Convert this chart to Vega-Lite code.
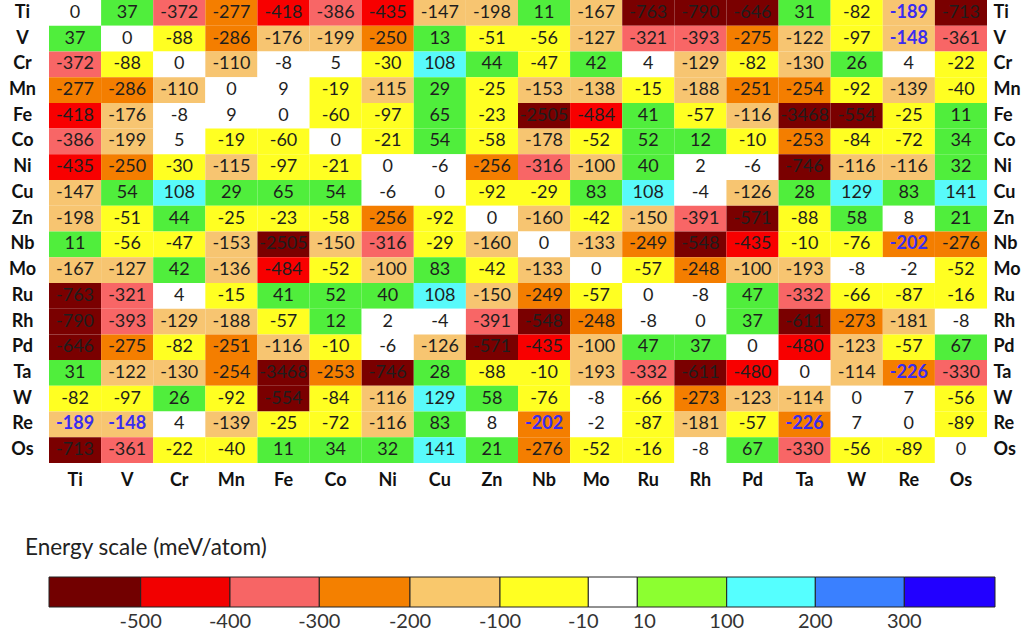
{
  "$schema": "https://vega.github.io/schema/vega-lite/v6.json",
  "width": 938,
  "height": 463,
  "autosize": {"type": "none"},
  "padding": {"left": 49, "top": 0, "right": 39, "bottom": 174},
  "background": "white",
  "config": {"view": {"stroke": null}, "font": "Lato"},
  "datasets": {
    "cells": [
      {"r":"Ti","c":"Ti","v":0},{"r":"Ti","c":"V","v":37},{"r":"Ti","c":"Cr","v":-372},{"r":"Ti","c":"Mn","v":-277},{"r":"Ti","c":"Fe","v":-418},{"r":"Ti","c":"Co","v":-386},{"r":"Ti","c":"Ni","v":-435},{"r":"Ti","c":"Cu","v":-147},{"r":"Ti","c":"Zn","v":-198},{"r":"Ti","c":"Nb","v":11},{"r":"Ti","c":"Mo","v":-167},{"r":"Ti","c":"Ru","v":-763},{"r":"Ti","c":"Rh","v":-790},{"r":"Ti","c":"Pd","v":-646},{"r":"Ti","c":"Ta","v":31},{"r":"Ti","c":"W","v":-82},{"r":"Ti","c":"Re","v":-189},{"r":"Ti","c":"Os","v":-713},
      {"r":"V","c":"Ti","v":37},{"r":"V","c":"V","v":0},{"r":"V","c":"Cr","v":-88},{"r":"V","c":"Mn","v":-286},{"r":"V","c":"Fe","v":-176},{"r":"V","c":"Co","v":-199},{"r":"V","c":"Ni","v":-250},{"r":"V","c":"Cu","v":13},{"r":"V","c":"Zn","v":-51},{"r":"V","c":"Nb","v":-56},{"r":"V","c":"Mo","v":-127},{"r":"V","c":"Ru","v":-321},{"r":"V","c":"Rh","v":-393},{"r":"V","c":"Pd","v":-275},{"r":"V","c":"Ta","v":-122},{"r":"V","c":"W","v":-97},{"r":"V","c":"Re","v":-148},{"r":"V","c":"Os","v":-361},
      {"r":"Cr","c":"Ti","v":-372},{"r":"Cr","c":"V","v":-88},{"r":"Cr","c":"Cr","v":0},{"r":"Cr","c":"Mn","v":-110},{"r":"Cr","c":"Fe","v":-8},{"r":"Cr","c":"Co","v":5},{"r":"Cr","c":"Ni","v":-30},{"r":"Cr","c":"Cu","v":108},{"r":"Cr","c":"Zn","v":44},{"r":"Cr","c":"Nb","v":-47},{"r":"Cr","c":"Mo","v":42},{"r":"Cr","c":"Ru","v":4},{"r":"Cr","c":"Rh","v":-129},{"r":"Cr","c":"Pd","v":-82},{"r":"Cr","c":"Ta","v":-130},{"r":"Cr","c":"W","v":26},{"r":"Cr","c":"Re","v":4},{"r":"Cr","c":"Os","v":-22},
      {"r":"Mn","c":"Ti","v":-277},{"r":"Mn","c":"V","v":-286},{"r":"Mn","c":"Cr","v":-110},{"r":"Mn","c":"Mn","v":0},{"r":"Mn","c":"Fe","v":9},{"r":"Mn","c":"Co","v":-19},{"r":"Mn","c":"Ni","v":-115},{"r":"Mn","c":"Cu","v":29},{"r":"Mn","c":"Zn","v":-25},{"r":"Mn","c":"Nb","v":-153},{"r":"Mn","c":"Mo","v":-138},{"r":"Mn","c":"Ru","v":-15},{"r":"Mn","c":"Rh","v":-188},{"r":"Mn","c":"Pd","v":-251},{"r":"Mn","c":"Ta","v":-254},{"r":"Mn","c":"W","v":-92},{"r":"Mn","c":"Re","v":-139},{"r":"Mn","c":"Os","v":-40},
      {"r":"Fe","c":"Ti","v":-418},{"r":"Fe","c":"V","v":-176},{"r":"Fe","c":"Cr","v":-8},{"r":"Fe","c":"Mn","v":9},{"r":"Fe","c":"Fe","v":0},{"r":"Fe","c":"Co","v":-60},{"r":"Fe","c":"Ni","v":-97},{"r":"Fe","c":"Cu","v":65},{"r":"Fe","c":"Zn","v":-23},{"r":"Fe","c":"Nb","v":-2505},{"r":"Fe","c":"Mo","v":-484},{"r":"Fe","c":"Ru","v":41},{"r":"Fe","c":"Rh","v":-57},{"r":"Fe","c":"Pd","v":-116},{"r":"Fe","c":"Ta","v":-3468},{"r":"Fe","c":"W","v":-554},{"r":"Fe","c":"Re","v":-25},{"r":"Fe","c":"Os","v":11},
      {"r":"Co","c":"Ti","v":-386},{"r":"Co","c":"V","v":-199},{"r":"Co","c":"Cr","v":5},{"r":"Co","c":"Mn","v":-19},{"r":"Co","c":"Fe","v":-60},{"r":"Co","c":"Co","v":0},{"r":"Co","c":"Ni","v":-21},{"r":"Co","c":"Cu","v":54},{"r":"Co","c":"Zn","v":-58},{"r":"Co","c":"Nb","v":-178},{"r":"Co","c":"Mo","v":-52},{"r":"Co","c":"Ru","v":52},{"r":"Co","c":"Rh","v":12},{"r":"Co","c":"Pd","v":-10},{"r":"Co","c":"Ta","v":-253},{"r":"Co","c":"W","v":-84},{"r":"Co","c":"Re","v":-72},{"r":"Co","c":"Os","v":34},
      {"r":"Ni","c":"Ti","v":-435},{"r":"Ni","c":"V","v":-250},{"r":"Ni","c":"Cr","v":-30},{"r":"Ni","c":"Mn","v":-115},{"r":"Ni","c":"Fe","v":-97},{"r":"Ni","c":"Co","v":-21},{"r":"Ni","c":"Ni","v":0},{"r":"Ni","c":"Cu","v":-6},{"r":"Ni","c":"Zn","v":-256},{"r":"Ni","c":"Nb","v":-316},{"r":"Ni","c":"Mo","v":-100},{"r":"Ni","c":"Ru","v":40},{"r":"Ni","c":"Rh","v":2},{"r":"Ni","c":"Pd","v":-6},{"r":"Ni","c":"Ta","v":-746},{"r":"Ni","c":"W","v":-116},{"r":"Ni","c":"Re","v":-116},{"r":"Ni","c":"Os","v":32},
      {"r":"Cu","c":"Ti","v":-147},{"r":"Cu","c":"V","v":54},{"r":"Cu","c":"Cr","v":108},{"r":"Cu","c":"Mn","v":29},{"r":"Cu","c":"Fe","v":65},{"r":"Cu","c":"Co","v":54},{"r":"Cu","c":"Ni","v":-6},{"r":"Cu","c":"Cu","v":0},{"r":"Cu","c":"Zn","v":-92},{"r":"Cu","c":"Nb","v":-29},{"r":"Cu","c":"Mo","v":83},{"r":"Cu","c":"Ru","v":108},{"r":"Cu","c":"Rh","v":-4},{"r":"Cu","c":"Pd","v":-126},{"r":"Cu","c":"Ta","v":28},{"r":"Cu","c":"W","v":129},{"r":"Cu","c":"Re","v":83},{"r":"Cu","c":"Os","v":141},
      {"r":"Zn","c":"Ti","v":-198},{"r":"Zn","c":"V","v":-51},{"r":"Zn","c":"Cr","v":44},{"r":"Zn","c":"Mn","v":-25},{"r":"Zn","c":"Fe","v":-23},{"r":"Zn","c":"Co","v":-58},{"r":"Zn","c":"Ni","v":-256},{"r":"Zn","c":"Cu","v":-92},{"r":"Zn","c":"Zn","v":0},{"r":"Zn","c":"Nb","v":-160},{"r":"Zn","c":"Mo","v":-42},{"r":"Zn","c":"Ru","v":-150},{"r":"Zn","c":"Rh","v":-391},{"r":"Zn","c":"Pd","v":-571},{"r":"Zn","c":"Ta","v":-88},{"r":"Zn","c":"W","v":58},{"r":"Zn","c":"Re","v":8},{"r":"Zn","c":"Os","v":21},
      {"r":"Nb","c":"Ti","v":11},{"r":"Nb","c":"V","v":-56},{"r":"Nb","c":"Cr","v":-47},{"r":"Nb","c":"Mn","v":-153},{"r":"Nb","c":"Fe","v":-2505},{"r":"Nb","c":"Co","v":-150},{"r":"Nb","c":"Ni","v":-316},{"r":"Nb","c":"Cu","v":-29},{"r":"Nb","c":"Zn","v":-160},{"r":"Nb","c":"Nb","v":0},{"r":"Nb","c":"Mo","v":-133},{"r":"Nb","c":"Ru","v":-249},{"r":"Nb","c":"Rh","v":-548},{"r":"Nb","c":"Pd","v":-435},{"r":"Nb","c":"Ta","v":-10},{"r":"Nb","c":"W","v":-76},{"r":"Nb","c":"Re","v":-202},{"r":"Nb","c":"Os","v":-276},
      {"r":"Mo","c":"Ti","v":-167},{"r":"Mo","c":"V","v":-127},{"r":"Mo","c":"Cr","v":42},{"r":"Mo","c":"Mn","v":-136},{"r":"Mo","c":"Fe","v":-484},{"r":"Mo","c":"Co","v":-52},{"r":"Mo","c":"Ni","v":-100},{"r":"Mo","c":"Cu","v":83},{"r":"Mo","c":"Zn","v":-42},{"r":"Mo","c":"Nb","v":-133},{"r":"Mo","c":"Mo","v":0},{"r":"Mo","c":"Ru","v":-57},{"r":"Mo","c":"Rh","v":-248},{"r":"Mo","c":"Pd","v":-100},{"r":"Mo","c":"Ta","v":-193},{"r":"Mo","c":"W","v":-8},{"r":"Mo","c":"Re","v":-2},{"r":"Mo","c":"Os","v":-52},
      {"r":"Ru","c":"Ti","v":-763},{"r":"Ru","c":"V","v":-321},{"r":"Ru","c":"Cr","v":4},{"r":"Ru","c":"Mn","v":-15},{"r":"Ru","c":"Fe","v":41},{"r":"Ru","c":"Co","v":52},{"r":"Ru","c":"Ni","v":40},{"r":"Ru","c":"Cu","v":108},{"r":"Ru","c":"Zn","v":-150},{"r":"Ru","c":"Nb","v":-249},{"r":"Ru","c":"Mo","v":-57},{"r":"Ru","c":"Ru","v":0},{"r":"Ru","c":"Rh","v":-8},{"r":"Ru","c":"Pd","v":47},{"r":"Ru","c":"Ta","v":-332},{"r":"Ru","c":"W","v":-66},{"r":"Ru","c":"Re","v":-87},{"r":"Ru","c":"Os","v":-16},
      {"r":"Rh","c":"Ti","v":-790},{"r":"Rh","c":"V","v":-393},{"r":"Rh","c":"Cr","v":-129},{"r":"Rh","c":"Mn","v":-188},{"r":"Rh","c":"Fe","v":-57},{"r":"Rh","c":"Co","v":12},{"r":"Rh","c":"Ni","v":2},{"r":"Rh","c":"Cu","v":-4},{"r":"Rh","c":"Zn","v":-391},{"r":"Rh","c":"Nb","v":-548},{"r":"Rh","c":"Mo","v":-248},{"r":"Rh","c":"Ru","v":-8},{"r":"Rh","c":"Rh","v":0},{"r":"Rh","c":"Pd","v":37},{"r":"Rh","c":"Ta","v":-611},{"r":"Rh","c":"W","v":-273},{"r":"Rh","c":"Re","v":-181},{"r":"Rh","c":"Os","v":-8},
      {"r":"Pd","c":"Ti","v":-646},{"r":"Pd","c":"V","v":-275},{"r":"Pd","c":"Cr","v":-82},{"r":"Pd","c":"Mn","v":-251},{"r":"Pd","c":"Fe","v":-116},{"r":"Pd","c":"Co","v":-10},{"r":"Pd","c":"Ni","v":-6},{"r":"Pd","c":"Cu","v":-126},{"r":"Pd","c":"Zn","v":-571},{"r":"Pd","c":"Nb","v":-435},{"r":"Pd","c":"Mo","v":-100},{"r":"Pd","c":"Ru","v":47},{"r":"Pd","c":"Rh","v":37},{"r":"Pd","c":"Pd","v":0},{"r":"Pd","c":"Ta","v":-480},{"r":"Pd","c":"W","v":-123},{"r":"Pd","c":"Re","v":-57},{"r":"Pd","c":"Os","v":67},
      {"r":"Ta","c":"Ti","v":31},{"r":"Ta","c":"V","v":-122},{"r":"Ta","c":"Cr","v":-130},{"r":"Ta","c":"Mn","v":-254},{"r":"Ta","c":"Fe","v":-3468},{"r":"Ta","c":"Co","v":-253},{"r":"Ta","c":"Ni","v":-746},{"r":"Ta","c":"Cu","v":28},{"r":"Ta","c":"Zn","v":-88},{"r":"Ta","c":"Nb","v":-10},{"r":"Ta","c":"Mo","v":-193},{"r":"Ta","c":"Ru","v":-332},{"r":"Ta","c":"Rh","v":-611},{"r":"Ta","c":"Pd","v":-480},{"r":"Ta","c":"Ta","v":0},{"r":"Ta","c":"W","v":-114},{"r":"Ta","c":"Re","v":-226},{"r":"Ta","c":"Os","v":-330},
      {"r":"W","c":"Ti","v":-82},{"r":"W","c":"V","v":-97},{"r":"W","c":"Cr","v":26},{"r":"W","c":"Mn","v":-92},{"r":"W","c":"Fe","v":-554},{"r":"W","c":"Co","v":-84},{"r":"W","c":"Ni","v":-116},{"r":"W","c":"Cu","v":129},{"r":"W","c":"Zn","v":58},{"r":"W","c":"Nb","v":-76},{"r":"W","c":"Mo","v":-8},{"r":"W","c":"Ru","v":-66},{"r":"W","c":"Rh","v":-273},{"r":"W","c":"Pd","v":-123},{"r":"W","c":"Ta","v":-114},{"r":"W","c":"W","v":0},{"r":"W","c":"Re","v":7},{"r":"W","c":"Os","v":-56},
      {"r":"Re","c":"Ti","v":-189},{"r":"Re","c":"V","v":-148},{"r":"Re","c":"Cr","v":4},{"r":"Re","c":"Mn","v":-139},{"r":"Re","c":"Fe","v":-25},{"r":"Re","c":"Co","v":-72},{"r":"Re","c":"Ni","v":-116},{"r":"Re","c":"Cu","v":83},{"r":"Re","c":"Zn","v":8},{"r":"Re","c":"Nb","v":-202},{"r":"Re","c":"Mo","v":-2},{"r":"Re","c":"Ru","v":-87},{"r":"Re","c":"Rh","v":-181},{"r":"Re","c":"Pd","v":-57},{"r":"Re","c":"Ta","v":-226},{"r":"Re","c":"W","v":7},{"r":"Re","c":"Re","v":0},{"r":"Re","c":"Os","v":-89},
      {"r":"Os","c":"Ti","v":-713},{"r":"Os","c":"V","v":-361},{"r":"Os","c":"Cr","v":-22},{"r":"Os","c":"Mn","v":-40},{"r":"Os","c":"Fe","v":11},{"r":"Os","c":"Co","v":34},{"r":"Os","c":"Ni","v":32},{"r":"Os","c":"Cu","v":141},{"r":"Os","c":"Zn","v":21},{"r":"Os","c":"Nb","v":-276},{"r":"Os","c":"Mo","v":-52},{"r":"Os","c":"Ru","v":-16},{"r":"Os","c":"Rh","v":-8},{"r":"Os","c":"Pd","v":67},{"r":"Os","c":"Ta","v":-330},{"r":"Os","c":"W","v":-56},{"r":"Os","c":"Re","v":-89},{"r":"Os","c":"Os","v":0}
    ],
    "bins": [
      {"lo":-600,"hi":-500},{"lo":-500,"hi":-400},{"lo":-400,"hi":-300},{"lo":-300,"hi":-200},{"lo":-200,"hi":-100},{"lo":-100,"hi":-10},{"lo":-10,"hi":10},{"lo":10,"hi":100},{"lo":100,"hi":200},{"lo":200,"hi":300},{"lo":300,"hi":400}
    ],
    "edges": [
      {"e":-500},{"e":-400},{"e":-300},{"e":-200},{"e":-100},{"e":-10},{"e":10},{"e":100},{"e":200},{"e":300}
    ]
  },
  "layer": [
    {
      "data": {"name": "cells"},
      "layer": [
        {
          "mark": {"type": "rect"},
          "encoding": {
            "x": {"field": "c", "type": "nominal", "sort": ["Ti","V","Cr","Mn","Fe","Co","Ni","Cu","Zn","Nb","Mo","Ru","Rh","Pd","Ta","W","Re","Os"], "scale": {"paddingInner": 0, "paddingOuter": 0},
              "axis": {"orient": "bottom", "title": null, "ticks": false, "tickSize": 0, "domain": false, "labelAngle": 0, "labelFont": "Lato", "labelFontWeight": "bold", "labelFontSize": 18, "labelColor": "#111111", "labelPadding": 8}},
            "y": {"field": "r", "type": "nominal", "sort": ["Ti","V","Cr","Mn","Fe","Co","Ni","Cu","Zn","Nb","Mo","Ru","Rh","Pd","Ta","W","Re","Os"], "scale": {"paddingInner": 0, "paddingOuter": 0},
              "axis": {"orient": "left", "title": null, "ticks": false, "tickSize": 0, "domain": false, "labelFont": "Lato", "labelFontWeight": "bold", "labelFontSize": 18, "labelColor": "#111111", "labelAlign": "center", "labelPadding": 27}},
            "color": {"field": "v", "type": "quantitative", "legend": null,
              "scale": {"type": "threshold", "domain": [-500, -400, -300, -200, -99.5, -9.5, 9.5, 100, 200, 300],
                "range": ["#7a0000", "#f80000", "#f86666", "#f47e00", "#f7c571", "#ffff22", "#ffffff", "#50ee3c", "#58fafa", "#3a80ff", "#2200ff"]}}
          }
        },
        {
          "transform": [{"filter": "!((datum.r=='Re'&&indexof(['Ti','V','Nb','Ta'],datum.c)>=0)||(datum.c=='Re'&&indexof(['Ti','V','Nb','Ta'],datum.r)>=0))"}],
          "mark": {"type": "text", "font": "Lato", "fontSize": 18, "color": "#1e1e1e"},
          "encoding": {
            "x": {"field": "c", "type": "nominal", "sort": ["Ti","V","Cr","Mn","Fe","Co","Ni","Cu","Zn","Nb","Mo","Ru","Rh","Pd","Ta","W","Re","Os"]},
            "y": {"field": "r", "type": "nominal", "sort": ["Ti","V","Cr","Mn","Fe","Co","Ni","Cu","Zn","Nb","Mo","Ru","Rh","Pd","Ta","W","Re","Os"],
              "axis": {"orient": "right", "title": null, "ticks": false, "tickSize": 0, "domain": false, "labelFont": "Lato", "labelFontWeight": "bold", "labelFontSize": 18, "labelColor": "#111111", "labelAlign": "left", "labelPadding": 6}},
            "text": {"field": "v", "type": "nominal"}
          }
        },
        {
          "transform": [{"filter": "(datum.r=='Re'&&indexof(['Ti','V','Nb','Ta'],datum.c)>=0)||(datum.c=='Re'&&indexof(['Ti','V','Nb','Ta'],datum.r)>=0)"}],
          "mark": {"type": "text", "font": "Lato", "fontSize": 18, "fontWeight": "bold", "color": "#3a2cf0"},
          "encoding": {
            "x": {"field": "c", "type": "nominal", "sort": ["Ti","V","Cr","Mn","Fe","Co","Ni","Cu","Zn","Nb","Mo","Ru","Rh","Pd","Ta","W","Re","Os"]},
            "y": {"field": "r", "type": "nominal", "sort": ["Ti","V","Cr","Mn","Fe","Co","Ni","Cu","Zn","Nb","Mo","Ru","Rh","Pd","Ta","W","Re","Os"], "axis": null},
            "text": {"field": "v", "type": "nominal"}
          }
        }
      ],
      "resolve": {"axis": {"y": "independent"}}
    },
    {
      "layer": [
        {
          "data": {"name": "bins"},
          "mark": {"type": "rect", "stroke": "#222222", "strokeWidth": 1},
          "encoding": {
            "x": {"field": "lo", "type": "quantitative", "axis": null,
              "scale": {"domain": [-600, -500, -400, -300, -200, -100, -10, 10, 100, 200, 300, 400], "range": [0, 91.7, 181, 270.3, 361, 451, 539.3, 588.3, 677.7, 766.3, 855.3, 946], "zero": false, "nice": false}},
            "x2": {"field": "hi"},
            "y": {"datum": 0, "type": "quantitative", "axis": null, "scale": {"domain": [0, 1], "range": [607, 577], "zero": false, "nice": false}},
            "y2": {"datum": 1},
            "color": {"field": "lo", "type": "quantitative", "legend": null,
              "scale": {"type": "threshold", "domain": [-500, -400, -300, -200, -100, -10, 10, 100, 200, 300],
                "range": ["#720000", "#f20000", "#f76565", "#f48000", "#f9c86c", "#ffff22", "#ffffff", "#8cff30", "#55ffff", "#3a80ff", "#2200ff"]}}
          }
        },
        {
          "data": {"name": "edges"},
          "transform": [{"filter": "datum.e != -10 && datum.e != 10"}],
          "mark": {"type": "text", "font": "Lato", "fontSize": 20, "color": "#333333", "baseline": "middle"},
          "encoding": {
            "x": {"field": "e", "type": "quantitative"},
            "y": {"datum": -0.5, "type": "quantitative"},
            "text": {"field": "e", "type": "nominal"}
          }
        },
        {
          "data": {"name": "edges"},
          "transform": [{"filter": "datum.e == -10"}],
          "mark": {"type": "text", "font": "Lato", "fontSize": 20, "color": "#333333", "baseline": "middle", "dx": -5},
          "encoding": {
            "x": {"field": "e", "type": "quantitative"},
            "y": {"datum": -0.5, "type": "quantitative"},
            "text": {"field": "e", "type": "nominal"}
          }
        },
        {
          "data": {"name": "edges"},
          "transform": [{"filter": "datum.e == 10"}],
          "mark": {"type": "text", "font": "Lato", "fontSize": 20, "color": "#333333", "baseline": "middle", "dx": 7},
          "encoding": {
            "x": {"field": "e", "type": "quantitative"},
            "y": {"datum": -0.5, "type": "quantitative"},
            "text": {"field": "e", "type": "nominal"}
          }
        },
        {
          "data": {"values": [{}]},
          "mark": {"type": "text", "font": "Lato", "fontSize": 22.5, "color": "#222222", "align": "left", "baseline": "middle", "dx": -24},
          "encoding": {
            "x": {"datum": -600, "type": "quantitative"},
            "y": {"datum": 1.97, "type": "quantitative"},
            "text": {"value": "Energy scale (meV/atom)"}
          }
        }
      ]
    }
  ],
  "resolve": {"scale": {"x": "independent", "y": "independent", "color": "independent"}, "axis": {"x": "independent", "y": "independent"}}
}
